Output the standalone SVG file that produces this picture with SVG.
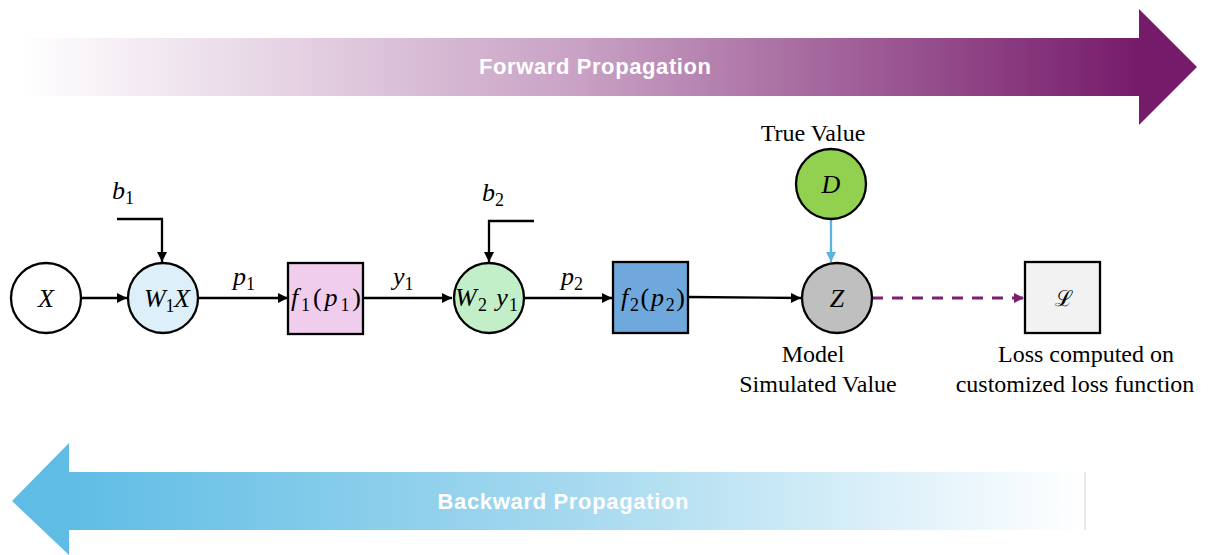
<svg xmlns="http://www.w3.org/2000/svg" width="1209" height="555" viewBox="0 0 1209 555">
<defs>
<linearGradient id="fwd" gradientUnits="userSpaceOnUse" x1="22" y1="0" x2="1140" y2="0">
<stop offset="0" stop-color="#ffffff"/>
<stop offset="0.5" stop-color="#c8a1c4"/>
<stop offset="1" stop-color="#761b6a"/>
</linearGradient>
<linearGradient id="bwd" gradientUnits="userSpaceOnUse" x1="60" y1="0" x2="1085" y2="0">
<stop offset="0" stop-color="#5ebce5"/>
<stop offset="0.5" stop-color="#a5d9ef"/>
<stop offset="1" stop-color="#ffffff"/>
</linearGradient>
<marker id="ah" viewBox="0 0 10 10" refX="10" refY="5" markerWidth="11" markerHeight="10" markerUnits="userSpaceOnUse" orient="auto">
<path d="M0,0 L10,5 L0,10 z" fill="#000"/>
</marker>
<marker id="ahb" viewBox="0 0 10 10" refX="10" refY="5" markerWidth="11" markerHeight="10" markerUnits="userSpaceOnUse" orient="auto">
<path d="M0,0 L10,5 L0,10 z" fill="#5bb4e0"/>
</marker>
<marker id="ahp" viewBox="0 0 10 10" refX="10" refY="5" markerWidth="11" markerHeight="10" markerUnits="userSpaceOnUse" orient="auto">
<path d="M0,0 L10,5 L0,10 z" fill="#7b2070"/>
</marker>
</defs>
<style>
.node{stroke:#000;stroke-width:2.3}
.math{font-family:"Liberation Serif","DejaVu Serif",serif;font-style:italic;font-size:26px;fill:#000}
.sub{font-size:18px;font-style:normal}
.up{font-style:normal}
.lbl{font-family:"Liberation Serif","Times New Roman",serif;font-size:24px;fill:#000;text-anchor:middle}
.banner{font-family:"Liberation Sans",Arial,sans-serif;font-weight:bold;font-size:22px;fill:#fff;text-anchor:middle}
.conn{stroke:#000;stroke-width:2.3;fill:none}
</style>

<g id="forward-arrow">
<path d="M22,38 L1139,38 L1139,9 L1197,67 L1139,125 L1139,96 L22,96 z" fill="url(#fwd)"/>
<text class="banner" x="595" y="74" textLength="232">Forward Propagation</text>
</g>

<g id="backward-arrow">
<path d="M1085,472 L69,472 L69,443 L12,501 L69,555 L69,530 L1085,530 z" fill="url(#bwd)"/>
<line x1="1085" y1="472" x2="1085" y2="530" stroke="#d0d0d0" stroke-width="1"/>
<text class="banner" x="563" y="509" textLength="251">Backward Propagation</text>
</g>

<g id="connectors">
<line class="conn" x1="81" y1="298" x2="127" y2="298" marker-end="url(#ah)"/>
<polyline class="conn" points="117,219 162,219 162,262" marker-end="url(#ah)"/>
<line class="conn" x1="198" y1="298" x2="288" y2="298" marker-end="url(#ah)"/>
<line class="conn" x1="363" y1="298" x2="452" y2="298" marker-end="url(#ah)"/>
<polyline class="conn" points="534,221 489,221 489,262" marker-end="url(#ah)"/>
<line class="conn" x1="524" y1="298" x2="612" y2="298" marker-end="url(#ah)"/>
<line class="conn" x1="688" y1="297" x2="801" y2="298" marker-end="url(#ah)"/>
<line x1="831" y1="219" x2="831" y2="262" stroke="#5bb4e0" stroke-width="2.3" marker-end="url(#ahb)"/>
<line x1="872" y1="298" x2="1024" y2="298" stroke="#7b2070" stroke-width="3" stroke-dasharray="11,9" marker-end="url(#ahp)"/>
</g>

<g id="node-X">
<circle class="node" cx="46" cy="298" r="35" fill="#fff"/>
<text class="math" x="46" y="307" text-anchor="middle">X</text>
</g>

<g id="node-W1X">
<circle class="node" cx="163" cy="298" r="35" fill="#ddf0f9"/>
<text class="math" x="144" y="307" textLength="46">W<tspan class="sub" dy="5">1</tspan><tspan dy="-5">X</tspan></text>
<text class="math" x="112" y="199">b<tspan class="sub" dy="5">1</tspan></text>
</g>

<g id="label-p1">
<text class="math" x="233" y="285">p<tspan class="sub" dy="5">1</tspan></text>
</g>

<g id="node-f1">
<rect class="node" x="288" y="263" width="75" height="71" fill="#f0cded"/>
<text class="math" x="291" y="306" textLength="70">f<tspan class="sub" dy="5">1</tspan><tspan class="up" dy="-5">(</tspan>p<tspan class="sub" dy="5">1</tspan><tspan class="up" dy="-5">)</tspan></text>
</g>

<g id="label-y1">
<text class="math" x="393" y="285">y<tspan class="sub" dy="5">1</tspan></text>
</g>

<g id="node-W2y1">
<circle class="node" cx="489" cy="298" r="35" fill="#c3efc8"/>
<text class="math" x="455" y="306" textLength="63">W<tspan class="sub" dy="5">2</tspan><tspan dy="-5"> y</tspan><tspan class="sub" dy="5">1</tspan></text>
<text class="math" x="482" y="201">b<tspan class="sub" dy="5">2</tspan></text>
</g>

<g id="label-p2">
<text class="math" x="561" y="285">p<tspan class="sub" dy="5">2</tspan></text>
</g>

<g id="node-f2">
<rect class="node" x="613" y="262" width="75" height="71" fill="#6fa8dc"/>
<text class="math" x="621" y="306" textLength="64">f<tspan class="sub" dy="5">2</tspan><tspan class="up" dy="-5">(</tspan>p<tspan class="sub" dy="5">2</tspan><tspan class="up" dy="-5">)</tspan></text>
</g>

<g id="node-D">
<circle class="node" cx="831" cy="184" r="35" fill="#92d050"/>
<text class="math" x="831" y="193" text-anchor="middle">D</text>
<text class="lbl" x="813" y="141">True Value</text>
</g>

<g id="node-Z">
<circle class="node" cx="837" cy="298" r="35" fill="#bfbfbf"/>
<text class="math" x="837" y="307" text-anchor="middle">Z</text>
<text class="lbl" x="813" y="362">Model</text>
<text class="lbl" x="818" y="392">Simulated Value</text>
</g>

<g id="node-L">
<rect class="node" x="1025" y="262" width="75" height="71" fill="#f2f2f2"/>
<text x="1064" y="306" text-anchor="middle" font-family="'DejaVu Serif','Liberation Serif',serif" font-size="22" fill="#000">ℒ</text>
<text class="lbl" x="1086" y="362">Loss computed on</text>
<text class="lbl" x="1075" y="392">customized loss function</text>
</g>
</svg>
